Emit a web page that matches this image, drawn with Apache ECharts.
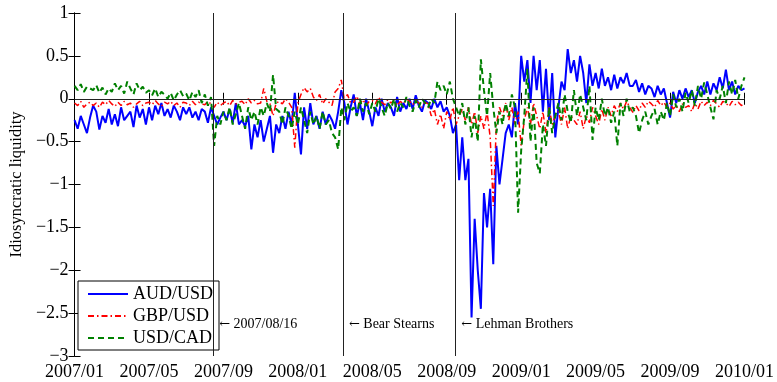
<!DOCTYPE html>
<html><head><meta charset="utf-8">
<script src="https://cdn.jsdelivr.net/npm/echarts@6/dist/echarts.min.js"></script>
<style>html,body{margin:0;padding:0;background:#fff}#c{width:777px;height:382px}</style>
</head><body><div id="c"></div>
<script>
const xTickLabels = ['2007/01','2007/05','2007/09','2008/01','2008/05','2008/09','2009/01','2009/05','2009/09','2010/01'];
const yTickLabels = ['\u22123','\u22122.5','\u22122','\u22121.5','\u22121','\u22120.5','0','0.5','1'];
const seriesNames = ['AUD/USD','GBP/USD','USD/CAD'];
const pointsPerMonth = 6; // samples per month, starting 2007/01
const audUsd = [
-0.25,-0.35,-0.2,-0.3,-0.4,-0.22,
-0.08,-0.15,-0.36,-0.2,-0.28,-0.12,
-0.3,-0.18,-0.32,-0.1,-0.25,-0.2,
-0.15,-0.33,-0.08,-0.22,-0.12,-0.3,
-0.1,-0.25,-0.08,-0.18,-0.05,-0.2,
-0.12,-0.22,-0.08,-0.15,-0.25,-0.1,
-0.18,-0.1,-0.22,-0.15,-0.25,-0.12,
-0.15,-0.28,-0.1,-0.2,-0.3,-0.22,
-0.15,-0.25,-0.12,-0.28,-0.05,-0.3,
-0.25,-0.32,-0.2,-0.59,-0.3,-0.45,
-0.25,-0.5,-0.35,-0.2,-0.63,-0.3,
-0.4,-0.2,-0.35,-0.15,-0.3,0.07,
-0.3,-0.65,-0.1,-0.35,-0.05,-0.3,
-0.2,-0.35,-0.15,-0.3,-0.18,-0.25,
-0.35,-0.15,0.1,-0.05,-0.3,-0.1,
0.05,-0.2,-0.05,-0.25,0.0,-0.15,
-0.32,-0.1,-0.2,0.0,-0.15,-0.05,
-0.1,-0.2,0.02,-0.15,-0.05,-0.12,
0.0,-0.12,0.04,-0.08,-0.15,-0.02,
-0.05,-0.12,0.0,-0.1,-0.03,-0.15,
-0.1,-0.2,-0.4,-0.3,-0.95,-0.45,
-0.95,-0.7,-2.55,-1.4,-2.0,-2.45,
-1.1,-1.5,-1.05,-1.93,-0.55,-1.0,
-0.7,-0.4,-0.3,-0.45,-0.05,-0.3,
0.5,0.2,0.45,-0.05,0.5,0.1,
0.45,-0.15,0.35,-0.25,0.3,-0.45,
-0.1,0.2,0.1,0.58,0.3,0.45,
0.2,0.5,0.3,-0.05,0.4,0.15,
0.3,0.12,0.35,0.15,0.25,0.1,
0.28,0.12,0.25,0.18,0.3,0.15,
0.15,0.22,0.08,0.18,0.05,0.15,
0.12,0.02,0.15,0.05,0.12,-0.05,
-0.22,0.08,-0.05,0.1,0.0,0.12,
0.02,0.1,-0.05,0.08,0.15,0.05,
0.2,0.05,0.18,0.1,0.25,0.12,
0.34,0.1,0.2,0.05,0.15,0.1,0.12
];
const gbpUsd = [
-0.05,-0.08,-0.03,-0.1,-0.06,-0.04,
-0.08,-0.05,-0.1,-0.04,-0.07,-0.02,
-0.06,-0.09,-0.04,-0.08,-0.03,-0.07,
-0.05,-0.1,-0.06,-0.03,-0.08,-0.05,
-0.04,-0.07,-0.02,-0.06,-0.09,-0.04,
-0.06,-0.03,-0.08,-0.05,-0.1,-0.04,
-0.05,-0.08,-0.03,-0.07,-0.04,-0.06,
-0.07,-0.03,-0.06,-0.1,-0.04,-0.08,
-0.05,-0.03,-0.08,-0.02,-0.06,-0.04,
-0.03,-0.07,0.0,-0.05,-0.02,-0.06,
-0.05,0.12,-0.03,-0.06,-0.2,-0.05,
-0.03,-0.06,0.0,-0.04,-0.1,-0.57,
-0.05,0.05,0.13,0.08,0.12,0.02,
-0.02,0.05,-0.06,0.0,-0.04,-0.08,
0.08,0.12,0.22,-0.02,0.05,-0.05,
-0.04,0.03,-0.06,-0.01,-0.08,-0.03,
-0.02,-0.06,0.02,-0.04,-0.07,-0.01,
-0.05,-0.02,-0.08,-0.03,-0.06,0.0,
-0.03,-0.07,-0.02,-0.05,-0.1,-0.04,
-0.06,-0.2,-0.12,-0.3,-0.18,-0.35,
-0.15,-0.25,-0.1,-0.3,-0.2,-0.12,
-0.25,-0.1,-0.3,-0.15,-0.4,-0.2,
-0.35,-0.15,-0.45,-1.25,-0.3,-0.1,
-0.2,-0.05,-0.25,-0.1,-0.3,-0.15,
-0.55,-0.25,-0.1,-0.3,-0.05,-0.2,
-0.35,-0.15,-0.4,-0.1,-0.3,-0.2,
-0.15,-0.3,-0.1,-0.35,-0.2,-0.25,
-0.3,-0.15,-0.35,-0.2,-0.28,-0.1,
-0.2,-0.3,-0.12,-0.25,-0.1,-0.2,
-0.08,-0.15,-0.05,-0.12,-0.03,-0.1,
-0.16,-0.08,-0.14,-0.05,-0.1,-0.03,
-0.06,-0.1,-0.02,-0.08,-0.04,-0.1,
-0.05,-0.12,-0.08,-0.15,-0.06,-0.1,
-0.08,-0.15,-0.05,-0.12,-0.03,-0.08,
-0.04,-0.08,-0.02,-0.06,-0.1,-0.03,
-0.05,-0.09,-0.03,-0.07,-0.04,-0.08,-0.05
];
const usdCad = [
0.15,0.1,0.17,0.08,0.14,0.12,
0.1,0.16,0.07,0.13,0.05,0.12,
0.08,0.18,0.1,0.15,0.06,0.2,
0.12,0.05,0.18,0.1,0.14,0.07,
0.1,0.04,0.12,0.02,0.08,0.05,
0.0,0.07,-0.02,0.05,0.1,0.03,
0.06,-0.02,0.08,0.02,0.1,-0.05,
0.05,-0.08,0.02,-0.55,-0.2,-0.3,
-0.15,-0.25,-0.1,-0.3,-0.18,-0.05,
-0.2,-0.35,-0.1,-0.25,-0.15,-0.3,
-0.1,-0.2,-0.05,-0.15,0.28,-0.12,
-0.15,-0.3,-0.1,-0.2,-0.35,-0.15,
-0.3,-0.1,-0.25,-0.4,-0.15,-0.3,
-0.2,-0.35,-0.15,-0.3,-0.25,-0.4,
-0.45,-0.59,-0.1,-0.25,-0.05,-0.15,
-0.1,-0.2,0.0,-0.15,-0.05,-0.18,
-0.05,-0.15,0.0,-0.1,-0.2,-0.05,
-0.12,0.0,-0.15,-0.05,-0.1,0.02,
-0.08,-0.15,-0.02,-0.1,0.0,-0.05,
-0.1,0.0,-0.05,0.2,0.1,0.15,
0.05,0.2,0.0,-0.1,-0.2,-0.05,
-0.3,-0.1,-0.45,-0.2,-0.5,0.46,
0.1,-0.2,0.3,-0.1,-0.4,-0.15,
-0.3,-0.05,-0.2,0.05,-0.1,-1.33,
-0.6,-0.2,0.35,-0.5,-0.1,-0.75,
-0.87,-0.3,-0.55,-0.1,-0.4,-0.2,
-0.05,-0.25,0.05,-0.15,-0.28,0.1,
-0.2,0.05,-0.1,-0.25,0.15,-0.48,
-0.1,-0.25,0.0,-0.2,-0.1,-0.28,
-0.15,-0.55,-0.05,-0.2,0.0,-0.15,
-0.1,-0.2,-0.4,-0.25,-0.15,-0.3,
-0.2,-0.12,-0.3,-0.15,-0.25,-0.05,
-0.2,0.05,-0.1,0.0,-0.15,0.07,
-0.05,0.1,-0.08,0.15,0.0,0.19,
0.05,-0.1,-0.24,0.1,0.0,0.15,
-0.05,0.2,0.05,0.22,0.0,0.15,0.25
];
const eventNames = ['2007/08/16','Bear Stearns','Lehman Brothers'];
const eventMonths = [7.45, 14.42, 20.46]; // month offsets from 2007/01
const annotationLevel = -2.63;

const serif = '"Liberation Serif","Times New Roman",serif';
const toPairs = arr => arr.map((v, i) => [i / pointsPerMonth, v]);

const chart = echarts.init(document.getElementById('c'), null, {renderer: 'canvas'});
const axisCommon = {
  min: 0, max: 36, interval: 4,
  axisLine: {show: true, lineStyle: {color: '#000', width: 1}},
  axisTick: {show: true, inside: true, length: 6, lineStyle: {color: '#000'}},
  splitLine: {show: false}
};
const yCommon = {
  type: 'value', min: -3, max: 1, interval: 0.5,
  axisLine: {show: true, lineStyle: {color: '#000', width: 1}},
  axisTick: {show: true, inside: true, length: 6, lineStyle: {color: '#000'}},
  splitLine: {show: false}
};
chart.setOption({
  animation: false,
  backgroundColor: '#fff',
  grid: {left: 71, right: 31, top: 13, bottom: 26, containLabel: false},
  legend: {
    orient: 'vertical', left: 78, top: 281,
    data: seriesNames,
    itemWidth: 40, itemHeight: 14, itemGap: 4, itemTextGap: 5,
    padding: [4, 6, 3, 9],
    borderColor: '#000', borderWidth: 1, backgroundColor: '#fff',
    itemStyle: {opacity: 0},
    textStyle: {fontFamily: serif, fontSize: 18, color: '#000', lineHeight: 18},
    selectedMode: false
  },
  xAxis: [
    Object.assign({type: 'value', position: 'bottom',
      axisLabel: {show: true, margin: 7, fontFamily: serif, fontSize: 18, color: '#000',
        formatter: v => xTickLabels[Math.round(v / 4)] || ''}}, axisCommon),
    Object.assign({type: 'value', position: 'top', axisLabel: {show: false}}, axisCommon)
  ],
  yAxis: [
    Object.assign({position: 'left',
      name: 'Idiosyncratic liquidity', nameLocation: 'middle', nameGap: 48,
      nameTextStyle: {fontFamily: serif, fontSize: 16.5, color: '#000'},
      axisLabel: {show: true, margin: 6, fontFamily: serif, fontSize: 18, color: '#000',
        formatter: v => yTickLabels[Math.round((v + 3) / 0.5)] || ''}}, yCommon),
    Object.assign({position: 'right', axisLabel: {show: false}}, yCommon)
  ],
  series: [
    {name: seriesNames[0], type: 'line', data: toPairs(audUsd), showSymbol: false, symbol: 'none',
      lineStyle: {color: '#0000ff', width: 2}, itemStyle: {color: '#0000ff'}, z: 2,
      markLine: {silent: true, symbol: 'none', animation: false, label: {show: false},
        lineStyle: {color: '#222', width: 1, type: 'solid'},
        data: [{yAxis: 0}].concat(eventMonths.map(m => ({xAxis: m})))}},
    {name: seriesNames[1], type: 'line', data: toPairs(gbpUsd), showSymbol: false, symbol: 'none',
      lineStyle: {color: '#ff0000', width: 1.5, type: [6, 3, 1.5, 3]}, itemStyle: {color: '#ff0000'}, z: 3},
    {name: seriesNames[2], type: 'line', data: toPairs(usdCad), showSymbol: false, symbol: 'none',
      lineStyle: {color: '#008000', width: 2, type: [6, 4]}, itemStyle: {color: '#008000'}, z: 4}
  ]
});

const texts = eventNames.map((name, i) => {
  const p = chart.convertToPixel({xAxisIndex: 0, yAxisIndex: 0}, [eventMonths[i], annotationLevel]);
  return {type: 'text', x: p[0] + 6, y: p[1], z: 10,
    style: {text: '{a|\u2190} ' + name, fontFamily: serif, fontSize: 14, fill: '#000',
      verticalAlign: 'middle', align: 'left',
      rich: {a: {fontFamily: '"DejaVu Serif"', fontSize: 13, fill: '#000'}}}};
});
chart.setOption({graphic: texts});
</script>
</body></html>
